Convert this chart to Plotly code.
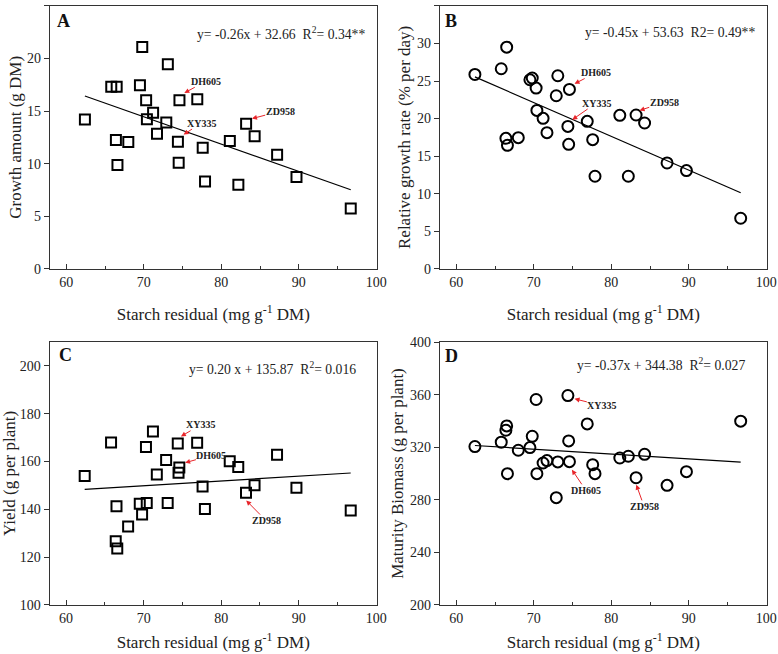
import plotly.graph_objects as go

# ---------------- data ----------------
starch = [62.4, 65.8, 66.5, 66.4, 66.6, 68.0, 69.8, 69.5, 70.3, 70.4, 71.2, 71.7, 73.1, 72.9,
          74.4, 74.6, 74.5, 76.9, 77.6, 77.9, 81.1, 82.2, 83.2, 84.3, 87.2, 89.7, 96.7]
growth = [14.2, 17.3, 17.3, 12.25, 9.87, 12.06, 21.1, 17.45, 16.02, 14.21, 14.85, 12.85, 19.45, 13.9,
          12.09, 16.02, 10.09, 16.12, 11.52, 8.31, 12.15, 8.0, 13.8, 12.6, 10.85, 8.72, 5.74]
rgr = [25.87, 26.63, 29.51, 17.37, 16.44, 17.46, 25.39, 25.17, 24.06, 21.09, 20.03, 18.12, 25.70, 23.04,
       18.96, 23.88, 16.57, 19.63, 17.19, 12.32, 20.43, 12.32, 20.47, 19.41, 14.09, 13.07, 6.73]
yield_ = [153.9, 168.0, 141.3, 126.7, 123.6, 132.8, 137.8, 142.3, 166.1, 142.7, 172.6, 154.6, 142.7, 160.6,
          167.5, 157.5, 155.3, 167.9, 149.6, 140.1, 160.1, 157.7, 146.9, 150.1, 162.8, 149.0, 139.5]
biomass = [320.5, 323.8, 336.2, 332.9, 299.9, 317.7, 328.3, 319.7, 356.3, 299.9, 308.0, 309.8, 308.8, 281.6,
           359.3, 309.0, 324.8, 337.7, 306.7, 299.9, 311.8, 313.1, 296.8, 314.6, 291.0, 301.4, 339.8]

slopes = [-0.26, -0.45, 0.20, -0.37]
intercepts = [32.66, 53.63, 135.87, 344.38]
equations = ["y= -0.26x + 32.66  R<sup>2</sup>= 0.34**",
             "y= -0.45x + 53.63  R2= 0.49**",
             "y= 0.20 x + 135.87  R<sup>2</sup>= 0.016",
             "y= -0.37x + 344.38  R<sup>2</sup>= 0.027"]
panel_letters = ["A", "B", "C", "D"]
y_titles = ["Growth amount (g DM)", "Relative growth rate (% per day)",
            "Yield (g per plant)", "Maturity Biomass (g per plant)"]
x_title = "Starch residual (mg g<sup>-1</sup> DM)"
y_ranges = [[0, 25], [0, 35], [100, 210], [200, 400]]
y_dticks = [5, 5, 20, 40]

# genotype labels: (panel, name, label_center_x, label_center_y, point_x, point_y)
labels = [
    (0, "DH605", 78.0, 17.83, 75.23, 16.72),
    (0, "ZD958", 87.6, 14.98, 83.96, 14.28),
    (0, "XY335", 77.4, 13.86, 75.14, 12.76),
    (1, "DH605", 78.06, 26.13, 75.26, 24.63),
    (1, "XY335", 78.06, 22.07, 74.97, 19.85),
    (1, "ZD958", 86.83, 22.15, 83.65, 21.08),
    (2, "XY335", 77.37, 175.4, 74.8, 170.5),
    (2, "DH605", 78.74, 162.6, 75.35, 159.5),
    (2, "ZD958", 85.78, 135.3, 83.23, 143.7),
    (3, "XY335", 78.78, 351.7, 75.26, 356.8),
    (3, "DH605", 76.72, 287.2, 74.92, 302.9),
    (3, "ZD958", 84.23, 275.0, 83.23, 291.5),
]

series = [growth, rgr, yield_, biomass]
symbols = ["square-open", "circle-open", "square-open", "circle-open"]
sizes = [10, 11, 10, 11]

# ---------------- layout geometry ----------------
x_domains = [[0.0643, 0.4842], [0.5656, 0.9854], [0.0640, 0.4842], [0.5656, 0.9854]]
y_domains = [[0.589, 0.991], [0.589, 0.991], [0.075, 0.477], [0.075, 0.477]]
y_standoffs = [1, 2, 1, 2]
x_standoffs = [19, 19, 11, 11]
letter_pos = [(0.015, 0.943), (0.008, 0.943), (0.022, 0.949), (0.010, 0.948)]
eq_pos = [(0.969, 0.895), (0.969, 0.900), (0.944, 0.9025), (0.940, 0.917)]

FONT = "Liberation Serif, Times New Roman, serif"
fig = go.Figure()

for i in range(4):
    xa = "x" if i == 0 else f"x{i+1}"
    ya = "y" if i == 0 else f"y{i+1}"
    fig.add_trace(go.Scatter(
        x=starch, y=series[i], mode="markers", xaxis=xa, yaxis=ya,
        marker=dict(symbol=symbols[i], size=sizes[i], color="black", line=dict(width=2, color="black")),
        showlegend=False, hoverinfo="x+y"))
    x0, x1 = min(starch), max(starch)
    fig.add_trace(go.Scatter(
        x=[x0, x1], y=[slopes[i] * x0 + intercepts[i], slopes[i] * x1 + intercepts[i]],
        mode="lines", xaxis=xa, yaxis=ya, line=dict(color="black", width=1.2),
        showlegend=False, hoverinfo="skip"))

layout = dict(
    width=778, height=654, margin=dict(l=0, r=0, t=0, b=0),
    template="none", paper_bgcolor="white", plot_bgcolor="white",
    font=dict(family=FONT, color="#222", size=14),
    annotations=[],
)

for i in range(4):
    xk = "xaxis" if i == 0 else f"xaxis{i+1}"
    yk = "yaxis" if i == 0 else f"yaxis{i+1}"
    ya = "y" if i == 0 else f"y{i+1}"
    xa = "x" if i == 0 else f"x{i+1}"
    layout[xk] = dict(
        domain=x_domains[i], anchor=ya, range=[57.9, 100.05], tickmode="linear", tick0=60, dtick=10,
        ticks="inside", ticklen=5, tickwidth=1.2, tickcolor="#333",
        minor=dict(ticks="inside", ticklen=3, tickwidth=1.2, tickcolor="#333", dtick=5, tick0=60, showgrid=False),
        showline=True, linecolor="#333", linewidth=1.3, mirror=True, showgrid=False, zeroline=False,
        tickfont=dict(family=FONT, size=14, color="#222"),
        title=dict(text=x_title, font=dict(family=FONT, size=17, color="#222"), standoff=x_standoffs[i]),
        automargin=False,
    )
    layout[yk] = dict(
        domain=y_domains[i], anchor=xa, range=y_ranges[i], tickmode="linear", tick0=y_ranges[i][0],
        dtick=y_dticks[i], ticks="outside", ticklen=5, tickwidth=1.2, tickcolor="#333",
        showline=True, linecolor="#333", linewidth=1.3, mirror=True, showgrid=False, zeroline=False,
        tickfont=dict(family=FONT, size=14, color="#222"),
        title=dict(text=y_titles[i], font=dict(family=FONT, size=17, color="#222"), standoff=y_standoffs[i]),
        automargin=False,
    )
    dx = "x domain" if i == 0 else f"x{i+1} domain"
    dy = "y domain" if i == 0 else f"y{i+1} domain"
    layout["annotations"].append(dict(
        text="<b>" + panel_letters[i] + "</b>", xref=dx, yref=dy,
        x=letter_pos[i][0], y=letter_pos[i][1], xanchor="left", yanchor="middle",
        showarrow=False, font=dict(family=FONT, size=18, color="#111")))
    layout["annotations"].append(dict(
        text=equations[i], xref=dx, yref=dy, x=eq_pos[i][0], y=eq_pos[i][1],
        xanchor="right", yanchor="middle", showarrow=False,
        font=dict(family=FONT, size=13.7, color="#222")))

for (p, name, tx, ty, hx, hy) in labels:
    xa = "x" if p == 0 else f"x{p+1}"
    ya = "y" if p == 0 else f"y{p+1}"
    layout["annotations"].append(dict(
        text="<b>" + name + "</b>", xref=xa, yref=ya, x=hx, y=hy, axref=xa, ayref=ya, ax=tx, ay=ty,
        showarrow=True, arrowhead=2, arrowsize=1, arrowwidth=1, arrowcolor="#e8252a",
        standoff=0, borderpad=0, font=dict(family=FONT, size=10, color="#222")))

fig.update_layout(**layout)
fig.write_html("out.html", config={"displayModeBar": False},
               post_script="document.body.style.margin='0px';document.body.style.overflow='hidden';")
